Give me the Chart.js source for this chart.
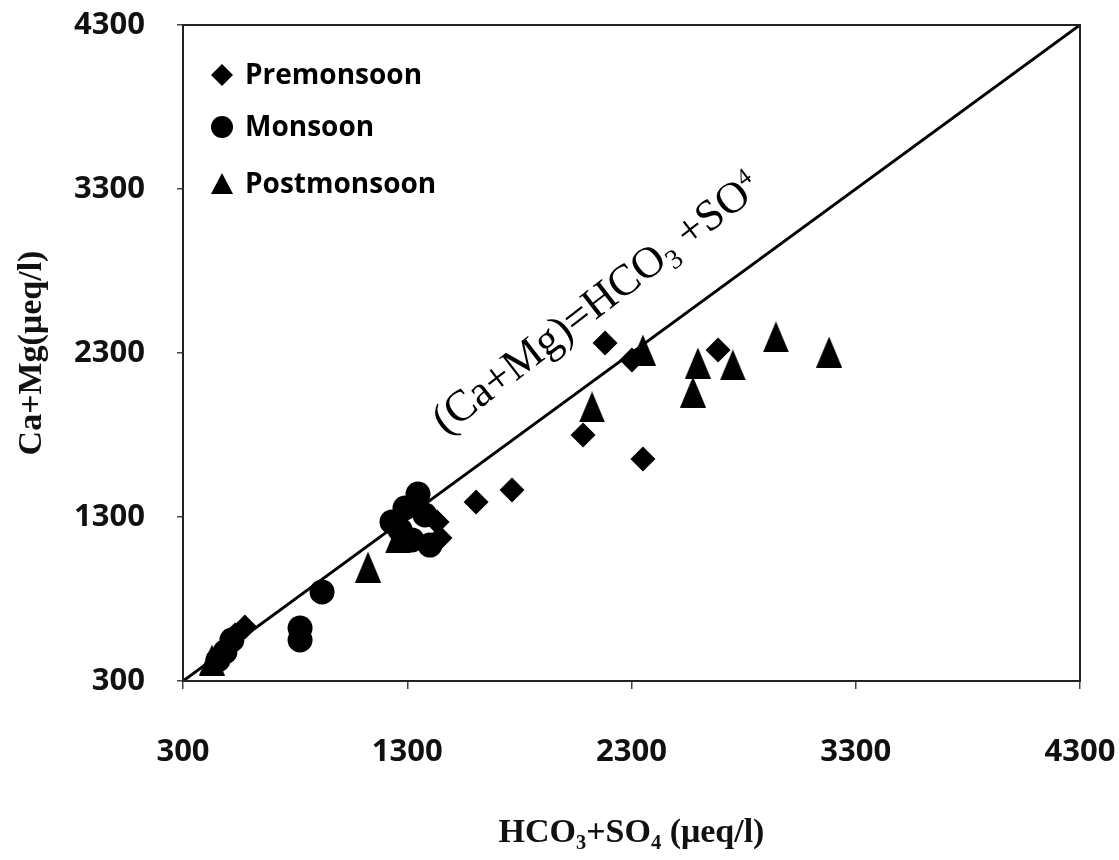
<!DOCTYPE html>
<html>
<head>
<meta charset="utf-8">
<script src="https://cdn.jsdelivr.net/npm/chart.js@4/dist/chart.umd.min.js"></script>
<style>
  html, body { margin: 0; padding: 0; background: #fff; }
  #wrap { width: 1119px; height: 860px; position: relative; }
</style>
</head>
<body>
<div id="wrap"><canvas id="c" width="1119" height="860"></canvas></div>
<script>
// ---- data ----
const seriesNames = ['Premonsoon', 'Monsoon', 'Postmonsoon'];

const premonX = [2182, 2302, 2686, 2084, 2351, 1607, 1767, 1446, 1433, 576, 532];
const premonY = [2361, 2257, 2318, 1800, 1654, 1392, 1465, 1172, 1270, 629, 580];

const monX = [920, 822, 822, 487, 518, 456, 1232, 1348, 1290, 1379, 1321, 1401, 1268];
const monY = [843, 623, 550, 477, 550, 428, 1270, 1440, 1355, 1312, 1160, 1129, 1221];

const postX = [2351, 2596, 2574, 2752, 2944, 3181, 2124, 1125, 1268, 1259, 429];
const postY = [2318, 2239, 2062, 2227, 2398, 2306, 1971, 995, 1190, 1172, 428];

const refLineX = [300, 4300];
const refLineY = [300, 4300];

const tickValues = [300, 1300, 2300, 3300, 4300];
const xTitle = 'HCO\u2083+SO\u2084 (\u03bceq/l)';
const yTitle = 'Ca+Mg(\u03bceq/l)';

// ---- helpers ----
const pts = (xs, ys) => xs.map((x, i) => ({ x: x, y: ys[i] }));

function makeTriangle(w, h) {
  const cv = document.createElement('canvas');
  cv.width = w; cv.height = h;
  const g = cv.getContext('2d');
  g.fillStyle = '#000';
  g.beginPath();
  g.moveTo(w / 2, 0);
  g.lineTo(w, h);
  g.lineTo(0, h);
  g.closePath();
  g.fill();
  return cv;
}
const triImg = makeTriangle(26, 31);

// frame around plot area
const framePlugin = {
  id: 'frame',
  afterDraw(chart) {
    const { ctx, chartArea: a } = chart;
    ctx.save();
    ctx.strokeStyle = '#222';
    ctx.lineWidth = 2;
    ctx.strokeRect(a.left, a.top, a.right - a.left, a.bottom - a.top);
    ctx.restore();
  }
};

// legend inside plot area
const legendPlugin = {
  id: 'insideLegend',
  afterDraw(chart) {
    const { ctx } = chart;
    const rows = [75, 127, 184];
    const mx = 222, tx = 245;
    ctx.save();
    ctx.fillStyle = '#000';
    ctx.font = 'bold 28px "Open Sans", sans-serif';
    ctx.textBaseline = 'middle';
    ctx.textAlign = 'left';
    seriesNames.forEach((name, i) => {
      const y = rows[i];
      ctx.beginPath();
      if (i === 0) {
        ctx.moveTo(mx, y - 11); ctx.lineTo(mx + 11, y); ctx.lineTo(mx, y + 11); ctx.lineTo(mx - 11, y);
      } else if (i === 1) {
        ctx.arc(mx, y, 11, 0, Math.PI * 2);
      } else {
        ctx.moveTo(mx, y - 11); ctx.lineTo(mx + 11, y + 10); ctx.lineTo(mx - 11, y + 10);
      }
      ctx.closePath();
      ctx.fill();
      ctx.fillText(name, tx, y + 1);
    });
    ctx.restore();
  }
};

// equation label along the 1:1 line
const eqPlugin = {
  id: 'eqLabel',
  afterDraw(chart) {
    const { ctx } = chart;
    const xs = chart.scales.x, ys = chart.scales.y;
    const cx = xs.getPixelForValue(2137);
    const cy = ys.getPixelForValue(2611);
    const parts = [
      { t: '(Ca+Mg)=HCO', f: 44, dy: 0 },
      { t: '3', f: 28, dy: 8 },
      { t: ' +SO', f: 44, dy: 0 },
      { t: '4', f: 24, dy: -16 }
    ];
    ctx.save();
    ctx.translate(cx, cy);
    ctx.rotate(-37.5 * Math.PI / 180);
    ctx.fillStyle = '#000';
    ctx.textBaseline = 'alphabetic';
    let total = 0;
    parts.forEach(p => { ctx.font = p.f + 'px "Liberation Serif", "Times New Roman", serif'; p.w = ctx.measureText(p.t).width; total += p.w; });
    let x = -total / 2;
    parts.forEach(p => {
      ctx.font = p.f + 'px "Liberation Serif", "Times New Roman", serif';
      ctx.fillText(p.t, x, 15 + p.dy);
      x += p.w;
    });
    ctx.restore();
  }
};

const tickFont = { family: '"Open Sans", sans-serif', size: 31, weight: 'bold' };
const titleFont = { family: '"Liberation Serif", "Times New Roman", serif', size: 34, weight: 'bold' };

function noPad(s) { s.paddingLeft = 0; s.paddingRight = 0; s.paddingTop = 0; s.paddingBottom = 0; }

new Chart(document.getElementById('c'), {
  type: 'scatter',
  data: {
    datasets: [
      {
        label: 'line',
        data: pts(refLineX, refLineY),
        showLine: true,
        borderColor: '#000',
        borderWidth: 3,
        pointRadius: 0,
        order: 0
      },
      {
        label: seriesNames[0],
        data: pts(premonX, premonY),
        pointStyle: 'rectRot',
        pointRadius: 12.5,
        backgroundColor: '#000',
        borderWidth: 0,
        order: 1
      },
      {
        label: seriesNames[1],
        data: pts(monX, monY),
        pointStyle: 'circle',
        pointRadius: 12.5,
        backgroundColor: '#000',
        borderWidth: 0,
        order: 1
      },
      {
        label: seriesNames[2],
        data: pts(postX, postY),
        pointStyle: triImg,
        pointRadius: 14,
        backgroundColor: '#000',
        borderWidth: 0,
        order: 1
      }
    ]
  },
  options: {
    responsive: false,
    animation: false,
    layout: { padding: { left: 0, right: 39, top: 25, bottom: 0 } },
    plugins: {
      legend: { display: false },
      tooltip: { enabled: false }
    },
    scales: {
      x: {
        type: 'linear',
        min: 300, max: 4300,
        afterBuildTicks: s => { s.ticks = tickValues.map(v => ({ value: v })); },
        afterFit: s => { s.height = 179; noPad(s); },
        grid: { drawOnChartArea: false, drawTicks: true, tickLength: 8, color: '#444', lineWidth: 1.5 },
        border: { display: true, color: '#222', width: 2 },
        ticks: { color: '#111', font: tickFont, padding: 45, maxRotation: 0, callback: v => String(v) },
        title: { display: true, text: xTitle, color: '#111', font: titleFont, padding: { top: 0, bottom: 6 } }
      },
      y: {
        type: 'linear',
        min: 300, max: 4300,
        afterBuildTicks: s => { s.ticks = tickValues.map(v => ({ value: v })); },
        afterFit: s => { s.width = 183; noPad(s); },
        grid: { drawOnChartArea: false, drawTicks: true, tickLength: 6, color: '#444', lineWidth: 1.5 },
        border: { display: true, color: '#222', width: 2 },
        ticks: { color: '#111', font: tickFont, padding: 32, callback: v => String(v) },
        title: { display: true, text: yTitle, color: '#111', font: titleFont, padding: { top: 12, bottom: 0 } }
      }
    }
  },
  plugins: [framePlugin, legendPlugin, eqPlugin]
});
</script>
</body>
</html>
